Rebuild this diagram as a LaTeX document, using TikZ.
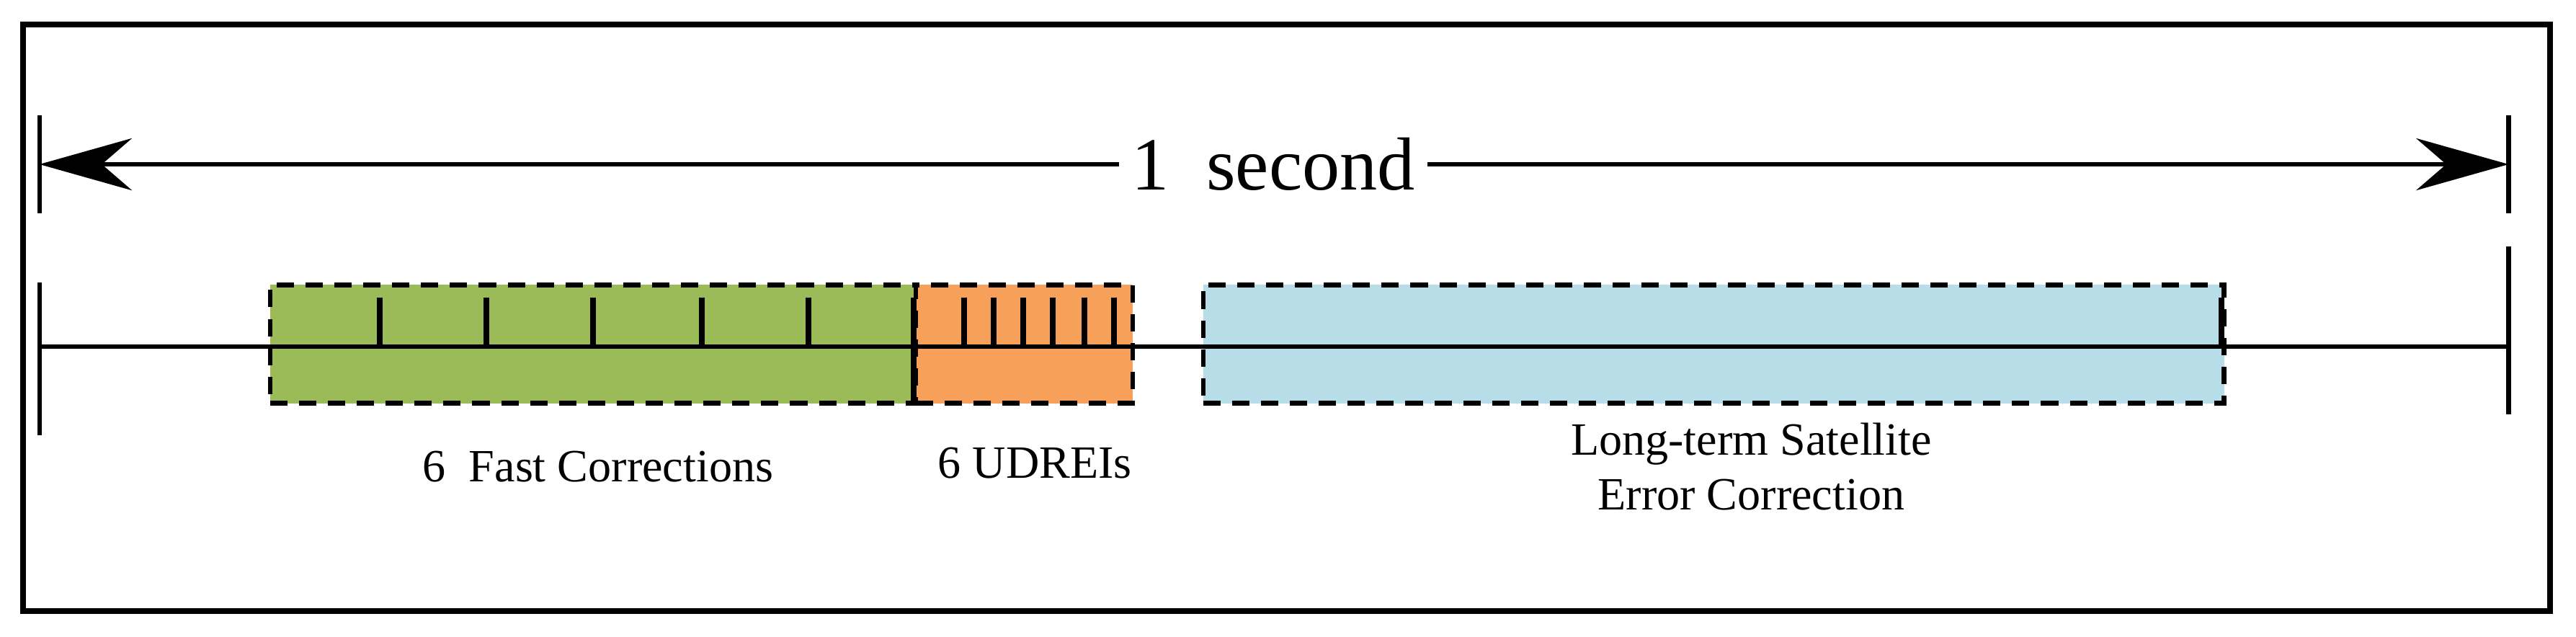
\documentclass[tikz,border=0pt]{standalone}
\usepackage{fontspec}
\setmainfont{Liberation Serif}
\usetikzlibrary{arrows.meta}
\begin{document}
\begin{tikzpicture}[x=0.01cm,y=-0.01cm,
  seg/.style={draw,densely dashed,line width=0.8pt},
  tick/.style={line width=1pt},
  lbl/.style={font=\fontsize{8}{9.5}\selectfont,align=center}]
\useasboundingbox (0,0) rectangle (1568,387.7);
\draw[line width=1pt] (14,15) rectangle (1552,372);
% end bars
\draw[line width=0.8pt] (24,70) -- (24,130);
\draw[line width=0.8pt] (1527,70) -- (1527,130);
\draw[line width=0.8pt] (24,172) -- (24,265);
\draw[line width=0.8pt] (1527,150) -- (1527,252);
\coordinate (la) at (24,100);
\coordinate (ra) at (1527,100);
\node[fill=white,inner sep=2pt,font=\fontsize{13}{15}\selectfont] (sec) at (775,100) {1\ \ second};
\draw[-{Stealth[length=16pt,width=9pt]},line width=0.8pt] (sec.west) -- (la);
\draw[-{Stealth[length=16pt,width=9pt]},line width=0.8pt] (sec.east) -- (ra);
% boxes
\node[seg,fill={rgb,255:red,155;green,187;blue,89},minimum width=393\pgflinewidth,inner sep=0,anchor=north west,minimum width=3.93cm,minimum height=0.72cm] (fast) at (163,172) {};
\node[seg,fill={rgb,255:red,247;green,160;blue,90},inner sep=0,anchor=north west,minimum width=1.32cm,minimum height=0.72cm] (ud) at (556,172) {};
\node[seg,fill={rgb,255:red,183;green,221;blue,232},inner sep=0,anchor=north west,minimum width=6.21cm,minimum height=0.72cm] (lt) at (731,172) {};
% baseline
\coordinate (bl) at (24,211);
\coordinate (br) at (1527,211);
\draw[line width=0.8pt] (bl) -- (br);
\foreach \x in {231,296,361,427,492} \draw[tick] (\x,181) -- (\x,211);
\foreach \x in {587,605,623,641,660,678} \draw[tick] (\x,181) -- (\x,211);
\draw[tick] (556,181) -- (556,244);
\draw[tick] (1352,181) -- (1352,211);
% labels
\node[lbl] (l1) at (364,284) {6\ \ Fast Corrections};
\node[lbl] (l2) at (630,282) {6 UDREIs};
\node[lbl] (l3) at (1066,284) {Long-term Satellite\\Error Correction};
\end{tikzpicture}
\end{document}
